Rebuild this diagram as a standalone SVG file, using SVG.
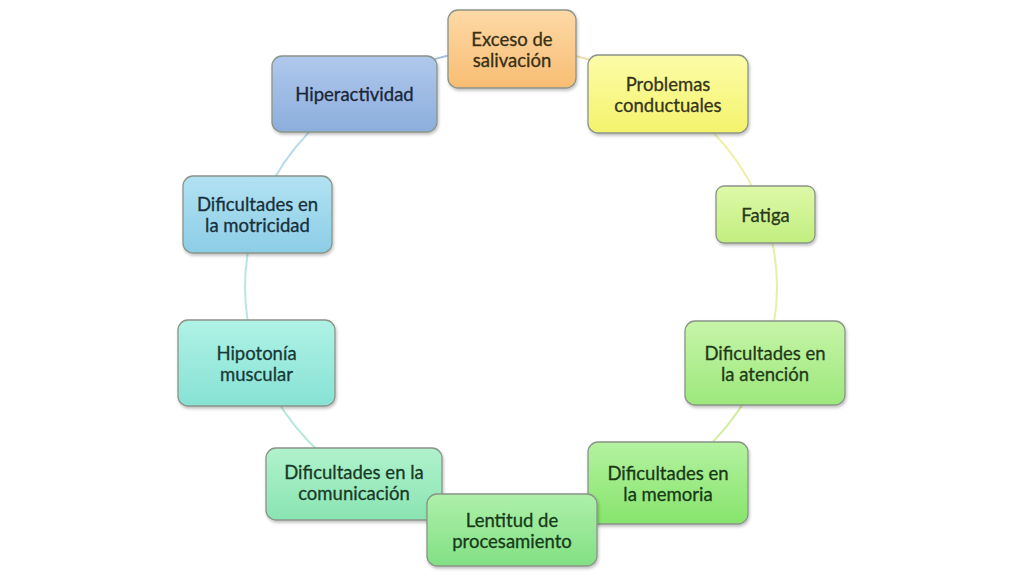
<svg xmlns="http://www.w3.org/2000/svg" width="1024" height="576" viewBox="0 0 1024 576">
<defs>
<linearGradient id="gOr" x1="0" y1="0" x2="0" y2="1"><stop offset="0" stop-color="#fdd9a6"/><stop offset="1" stop-color="#f8bd74"/></linearGradient>
<linearGradient id="gYe" x1="0" y1="0" x2="0" y2="1"><stop offset="0" stop-color="#fcfca8"/><stop offset="1" stop-color="#f4f36c"/></linearGradient>
<linearGradient id="gYg" x1="0" y1="0" x2="0" y2="1"><stop offset="0" stop-color="#def8a8"/><stop offset="1" stop-color="#c2ee80"/></linearGradient>
<linearGradient id="gLg" x1="0" y1="0" x2="0" y2="1"><stop offset="0" stop-color="#c6f4a8"/><stop offset="1" stop-color="#9ce87c"/></linearGradient>
<linearGradient id="gGr" x1="0" y1="0" x2="0" y2="1"><stop offset="0" stop-color="#b4f2a0"/><stop offset="1" stop-color="#86e46c"/></linearGradient>
<linearGradient id="gGr2" x1="0" y1="0" x2="0" y2="1"><stop offset="0" stop-color="#aef0aa"/><stop offset="1" stop-color="#82e084"/></linearGradient>
<linearGradient id="gMi" x1="0" y1="0" x2="0" y2="1"><stop offset="0" stop-color="#b0f2cc"/><stop offset="1" stop-color="#8ae4b2"/></linearGradient>
<linearGradient id="gTe" x1="0" y1="0" x2="0" y2="1"><stop offset="0" stop-color="#b0f2e6"/><stop offset="1" stop-color="#86e2d4"/></linearGradient>
<linearGradient id="gSk" x1="0" y1="0" x2="0" y2="1"><stop offset="0" stop-color="#b2e2f2"/><stop offset="1" stop-color="#8ccde6"/></linearGradient>
<linearGradient id="gBl" x1="0" y1="0" x2="0" y2="1"><stop offset="0" stop-color="#b0c8ec"/><stop offset="1" stop-color="#8caedc"/></linearGradient>
<filter id="sh" x="-10%" y="-10%" width="130%" height="130%"><feDropShadow dx="1" dy="2" stdDeviation="1.5" flood-color="#000" flood-opacity="0.25"/></filter>
</defs>
<style>
.box{stroke:#8a9488;stroke-width:1.3;filter:url(#sh)}
.t{font-family:Lato,"Open Sans",sans-serif;font-size:18.5px;text-anchor:middle;dominant-baseline:central;stroke-width:0.3}
.c{fill:none;stroke-width:2}
</style>
<rect width="1024" height="576" fill="#ffffff"/>
<g id="connectors">
<path class="c" stroke="#f2d9a8" d="M511 49 A266 238 0 0 1 667.4 94.5"/>
<path class="c" stroke="#eef0a8" d="M667.4 94.5 A266 238 0 0 1 764 213.5"/>
<path class="c" stroke="#e2f2a4" d="M764 213.5 A266 238 0 0 1 764 360.5"/>
<path class="c" stroke="#d2eca0" d="M764 360.5 A266 238 0 0 1 667.4 479.5"/>
<path class="c" stroke="#bdeab0" d="M667.4 479.5 A266 238 0 0 1 511 525"/>
<path class="c" stroke="#b6e8cc" d="M511 525 A266 238 0 0 1 354.6 479.5"/>
<path class="c" stroke="#b4e8dc" d="M354.6 479.5 A266 238 0 0 1 258 360.5"/>
<path class="c" stroke="#b8e6e0" d="M258 360.5 A266 238 0 0 1 258 213.5"/>
<path class="c" stroke="#b6dcea" d="M258 213.5 A266 238 0 0 1 354.6 94.5"/>
<path class="c" stroke="#a8bede" d="M354.6 94.5 A266 238 0 0 1 511 49"/>
</g>
<g id="n-exceso">
<rect class="box" x="448" y="10" width="128" height="78" rx="10" fill="url(#gOr)" stroke="#b9a27a"/>
<text class="t" x="512" y="39" fill="#3a3015" stroke="#3a3015">Exceso de</text>
<text class="t" x="512" y="60" fill="#3a3015" stroke="#3a3015">salivación</text>
</g>
<g id="n-problemas">
<rect class="box" x="588" y="55" width="160" height="78" rx="10" fill="url(#gYe)" stroke="#b8b880"/>
<text class="t" x="668" y="84" fill="#35351a" stroke="#35351a">Problemas</text>
<text class="t" x="668" y="105" fill="#35351a" stroke="#35351a">conductuales</text>
</g>
<g id="n-fatiga">
<rect class="box" x="716" y="186" width="99" height="57" rx="8" fill="url(#gYg)" stroke="#9fb882"/>
<text class="t" x="765.5" y="214.5" fill="#2b3a1a" stroke="#2b3a1a">Fatiga</text>
</g>
<g id="n-atencion">
<rect class="box" x="685" y="321" width="160" height="84" rx="10" fill="url(#gLg)" stroke="#90b480"/>
<text class="t" x="765" y="353" fill="#1f3a18" stroke="#1f3a18">Dificultades en</text>
<text class="t" x="765" y="374" fill="#1f3a18" stroke="#1f3a18">la atención</text>
</g>
<g id="n-memoria">
<rect class="box" x="588" y="442" width="160" height="82" rx="10" fill="url(#gGr)" stroke="#88b080"/>
<text class="t" x="668" y="473" fill="#173a15" stroke="#173a15">Dificultades en</text>
<text class="t" x="668" y="494" fill="#173a15" stroke="#173a15">la memoria</text>
</g>
<g id="n-comunicacion">
<rect class="box" x="266" y="448" width="176" height="72" rx="10" fill="url(#gMi)" stroke="#86ac98"/>
<text class="t" x="354" y="472" fill="#173a28" stroke="#173a28">Dificultades en la</text>
<text class="t" x="354" y="493" fill="#173a28" stroke="#173a28">comunicación</text>
</g>
<g id="n-lentitud">
<rect class="box" x="427" y="494" width="170" height="72" rx="10" fill="url(#gGr2)" stroke="#86ac88"/>
<text class="t" x="512" y="520" fill="#173a18" stroke="#173a18">Lentitud de</text>
<text class="t" x="512" y="541" fill="#173a18" stroke="#173a18">procesamiento</text>
</g>
<g id="n-hipotonia">
<rect class="box" x="178" y="320" width="157" height="86" rx="10" fill="url(#gTe)" stroke="#86aca6"/>
<text class="t" x="256.5" y="353" fill="#173a36" stroke="#173a36">Hipotonía</text>
<text class="t" x="256.5" y="374" fill="#173a36" stroke="#173a36">muscular</text>
</g>
<g id="n-motricidad">
<rect class="box" x="183" y="176" width="149" height="77" rx="10" fill="url(#gSk)" stroke="#86a4b0"/>
<text class="t" x="257.5" y="204" fill="#17303a" stroke="#17303a">Dificultades en</text>
<text class="t" x="257.5" y="225" fill="#17303a" stroke="#17303a">la motricidad</text>
</g>
<g id="n-hiperactividad">
<rect class="box" x="272" y="56" width="165" height="76" rx="10" fill="url(#gBl)" stroke="#8898b0"/>
<text class="t" x="354.5" y="94" fill="#1a2638" stroke="#1a2638">Hiperactividad</text>
</g>
</svg>
